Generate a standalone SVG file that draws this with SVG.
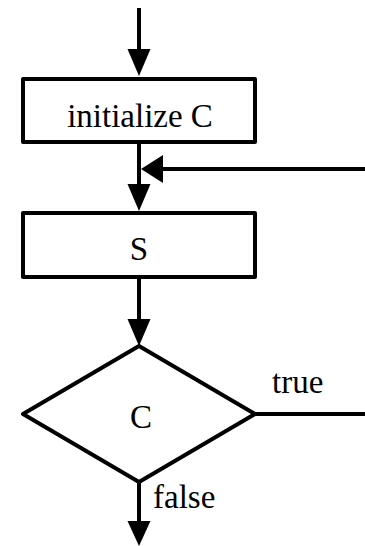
<svg xmlns="http://www.w3.org/2000/svg" width="365" height="546" viewBox="0 0 365 546">
  <style>
    .shape { fill: #fff; stroke: #000; stroke-width: 4; stroke-linejoin: round; }
    .line { fill: none; stroke: #000; stroke-width: 4; }
    .head { fill: #000; stroke: none; }
    .label { font-family: "Liberation Serif", "Times New Roman", serif; font-size: 33px; fill: #000; }
    .mid { text-anchor: middle; }
  </style>
  <rect width="365" height="546" fill="#fff"/>

  <g id="connectors">
    <!-- entry -->
    <line class="line" x1="139" y1="8" x2="139" y2="55"/>
    <polygon class="head" points="127.5,49 150.5,49 139,76"/>
    <!-- initialize -> S -->
    <line class="line" x1="139" y1="144" x2="139" y2="190"/>
    <polygon class="head" points="127.5,184 150.5,184 139,211"/>
    <!-- loop back-edge joining above S -->
    <line class="line" x1="365" y1="169" x2="158" y2="169"/>
    <polygon class="head" points="163,155 163,183 141,169"/>
    <!-- S -> C -->
    <line class="line" x1="139" y1="279" x2="139" y2="325"/>
    <polygon class="head" points="127.5,319 150.5,319 139,346"/>
    <!-- true branch -->
    <line class="line" x1="255" y1="414" x2="365" y2="414"/>
    <!-- false branch -->
    <line class="line" x1="139" y1="482" x2="139" y2="528"/>
    <polygon class="head" points="127.5,521 150.5,521 139,546"/>
  </g>

  <g id="node-init">
    <rect class="shape" x="23" y="79" width="232" height="63"/>
    <text class="label mid" x="140" y="127">initialize C</text>
  </g>

  <g id="node-s">
    <rect class="shape" x="23" y="213" width="232" height="64"/>
    <text class="label mid" x="139" y="260">S</text>
  </g>

  <g id="node-c">
    <polygon class="shape" points="139,346 255,414 139,482 23,414"/>
    <text class="label mid" x="141" y="428">C</text>
  </g>

  <g id="labels">
    <text class="label" x="272" y="393">true</text>
    <text class="label" x="153" y="508">false</text>
  </g>
</svg>
